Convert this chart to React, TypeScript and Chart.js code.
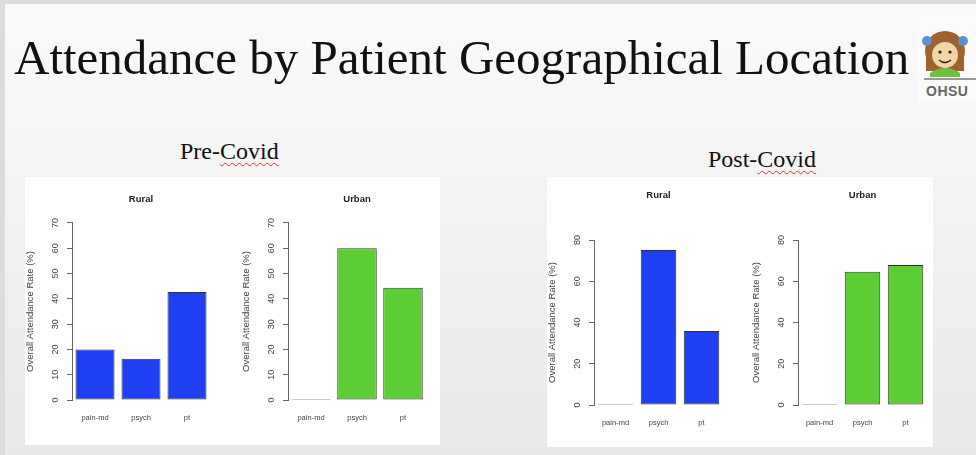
import React, { useEffect, useRef } from 'react';
import { Chart, registerables } from 'chart.js';

Chart.register(...registerables);

// ---- data ----
const categories = ['pain-md', 'psych', 'pt'];
const preRural = [20, 16.3, 42.7];
const preUrban = [0, 60, 44.4];
const postRural = [0, 75.2, 35.9];
const postUrban = [0, 64.6, 67.9];
const preYMax = 70;
const preYStep = 10;
const postYMax = 80;
const postYStep = 20;
const yAxisTitle = 'Overall Attendance Rate (%)';
const ruralColor = '#1f40f2';
const urbanColor = '#5ccd33';

type SubProps = {
  values: number[];
  color: string;
  title: string;
  yMax: number;
  step: number;
  axisX: number;
  catW: number;
  barW: number;
  yTop: number;
  yBottom: number;
  titleY: number;
  boxTop: number;
  boxBottom: number;
};

const SANS = '"Liberation Sans", Arial, Helvetica, sans-serif';

function SubChart(p: SubProps) {
  const ref = useRef<HTMLCanvasElement>(null);
  const left = p.axisX - 50;
  const padR = 6;
  const right = p.axisX + p.catW * categories.length;
  const width = right + padR - left;
  const height = p.boxBottom - p.boxTop;

  useEffect(() => {
    const titleSize = 9.5;
    const tp = p.titleY - p.boxTop - 0.6 * titleSize;
    const bp = p.yTop - p.boxTop - tp - 1.2 * titleSize;
    const xFont = 7.5;
    const xPad = 18 - 0.6 * xFont;
    const chart = new Chart(ref.current as HTMLCanvasElement, {
      type: 'bar',
      data: {
        labels: categories,
        datasets: [
          {
            data: p.values,
            backgroundColor: p.color,
            borderColor: '#333',
            borderWidth: 1,
            borderSkipped: false,
            barPercentage: 1,
            categoryPercentage: p.barW / p.catW,
            minBarLength: 1,
            clip: false,
          } as any,
        ],
      },
      options: {
        animation: false,
        responsive: false,
        maintainAspectRatio: false,
        devicePixelRatio: 1,
        layout: { padding: { left: 0, right: padR, top: 0, bottom: 0 } },
        plugins: {
          legend: { display: false },
          tooltip: { enabled: false },
          title: {
            display: true,
            text: p.title,
            fullSize: false,
            color: '#222',
            font: { family: SANS, size: titleSize, weight: 'bold' },
            padding: { top: tp, bottom: bp },
          },
        },
        scales: {
          x: {
            type: 'category',
            offset: true,
            grid: { display: false, drawTicks: false },
            border: { display: false },
            ticks: {
              font: { family: SANS, size: xFont },
              color: '#444',
              padding: xPad,
              maxRotation: 0,
              minRotation: 0,
              autoSkip: false,
            },
            afterFit: (s: any) => {
              s.height = p.boxBottom - p.yBottom;
            },
          },
          y: {
            min: 0,
            max: p.yMax,
            ticks: {
              stepSize: p.step,
              minRotation: 90,
              maxRotation: 90,
              crossAlign: 'center',
              padding: 6,
              font: { family: SANS, size: 9 },
              color: '#444',
            },
            grid: {
              display: true,
              drawOnChartArea: false,
              drawTicks: true,
              tickLength: 5,
              color: '#666',
              lineWidth: 1,
            },
            border: { display: true, color: '#666', width: 1 },
            title: {
              display: true,
              text: yAxisTitle,
              color: '#444',
              font: { family: SANS, size: 9.5 },
              padding: { top: 3, bottom: 0 },
            },
            afterFit: (s: any) => {
              s.width = 50;
            },
          },
        },
      } as any,
    });
    return () => chart.destroy();
  }, []);

  return (
    <canvas
      ref={ref}
      width={width}
      height={height}
      style={{ position: 'absolute', left, top: p.boxTop, width, height }}
    />
  );
}

function Logo() {
  return (
    <div style={{ position: 'absolute', left: 918, top: 19, width: 58, height: 82, background: '#fbfbfb' }}>
      <svg width={58} height={82} style={{ position: 'absolute', left: 0, top: 0 }}>
        <ellipse cx={27} cy={32} rx={20} ry={20} fill="#a0622d" />
        <rect x={8} y={30} width={38} height={22} fill="#a0622d" />
        <circle cx={9} cy={22} r={5} fill="#5b8fd6" />
        <circle cx={45} cy={22} r={5} fill="#5b8fd6" />
        <ellipse cx={27} cy={36} rx={13} ry={13} fill="#f3d3a8" />
        <circle cx={22} cy={33} r={1.6} fill="#222" />
        <circle cx={32} cy={33} r={1.6} fill="#222" />
        <path d="M21 41 Q27 46 33 41" stroke="#222" strokeWidth={1.3} fill="none" />
        <path d="M12 54 Q27 44 42 54 L42 58 L12 58 Z" fill="#6fbf3c" />
        <line x1={6} y1={60} x2={58} y2={60} stroke="#777" strokeWidth={1.5} />
      </svg>
      <div
        style={{
          position: 'absolute',
          left: 8,
          top: 64,
          fontFamily: SANS,
          fontWeight: 'bold',
          fontSize: 14,
          color: '#666',
          letterSpacing: 0.5,
          lineHeight: '16px',
        }}
      >
        OHSU
      </div>
    </div>
  );
}

const serif = '"Liberation Serif", "Times New Roman", serif';
const wavy: React.CSSProperties = {
  textDecorationLine: 'underline',
  textDecorationStyle: 'wavy',
  textDecorationColor: '#d23a3a',
  textDecorationThickness: '1px',
  textUnderlineOffset: '3px',
};

export default function App() {
  return (
    <div
      style={{
        position: 'fixed',
        left: 0,
        top: 0,
        width: 976,
        height: 455,
        background: '#dcdcdc',
        overflow: 'hidden',
      }}
    >
      <div
        style={{
          position: 'absolute',
          left: 5,
          top: 4,
          right: 0,
          bottom: 0,
          background: 'linear-gradient(180deg, #fafafa 0%, #f2f2f2 45%, #e9e9e9 100%)',
        }}
      />
      <div
        style={{
          position: 'absolute',
          left: 14,
          top: 33,
          fontFamily: serif,
          fontSize: 49,
          lineHeight: '49px',
          color: '#111',
          whiteSpace: 'nowrap',
        }}
      >
        Attendance by Patient Geographical Location
      </div>
      <Logo />
      <div
        style={{
          position: 'absolute',
          left: 180,
          top: 139,
          fontFamily: serif,
          fontSize: 24,
          lineHeight: '24px',
          color: '#111',
          whiteSpace: 'nowrap',
        }}
      >
        Pre-<span style={wavy}>Covid</span>
      </div>
      <div
        style={{
          position: 'absolute',
          left: 708,
          top: 147,
          fontFamily: serif,
          fontSize: 24,
          lineHeight: '24px',
          color: '#111',
          whiteSpace: 'nowrap',
        }}
      >
        Post-<span style={wavy}>Covid</span>
      </div>
      <div style={{ position: 'absolute', left: 25, top: 177, width: 415, height: 268, background: '#ffffff' }} />
      <div style={{ position: 'absolute', left: 547, top: 177, width: 386, height: 270, background: '#ffffff' }} />
      <SubChart
        values={preRural}
        color={ruralColor}
        title="Rural"
        yMax={preYMax}
        step={preYStep}
        axisX={72}
        catW={46}
        barW={39}
        yTop={223}
        yBottom={400}
        titleY={199}
        boxTop={177}
        boxBottom={445}
      />
      <SubChart
        values={preUrban}
        color={urbanColor}
        title="Urban"
        yMax={preYMax}
        step={preYStep}
        axisX={288}
        catW={46}
        barW={39.5}
        yTop={223}
        yBottom={400}
        titleY={199}
        boxTop={177}
        boxBottom={445}
      />
      <SubChart
        values={postRural}
        color={ruralColor}
        title="Rural"
        yMax={postYMax}
        step={postYStep}
        axisX={594}
        catW={43}
        barW={35.5}
        yTop={240}
        yBottom={405}
        titleY={195}
        boxTop={177}
        boxBottom={447}
      />
      <SubChart
        values={postUrban}
        color={urbanColor}
        title="Urban"
        yMax={postYMax}
        step={postYStep}
        axisX={798}
        catW={43}
        barW={35.5}
        yTop={240}
        yBottom={405}
        titleY={195}
        boxTop={177}
        boxBottom={447}
      />
    </div>
  );
}
